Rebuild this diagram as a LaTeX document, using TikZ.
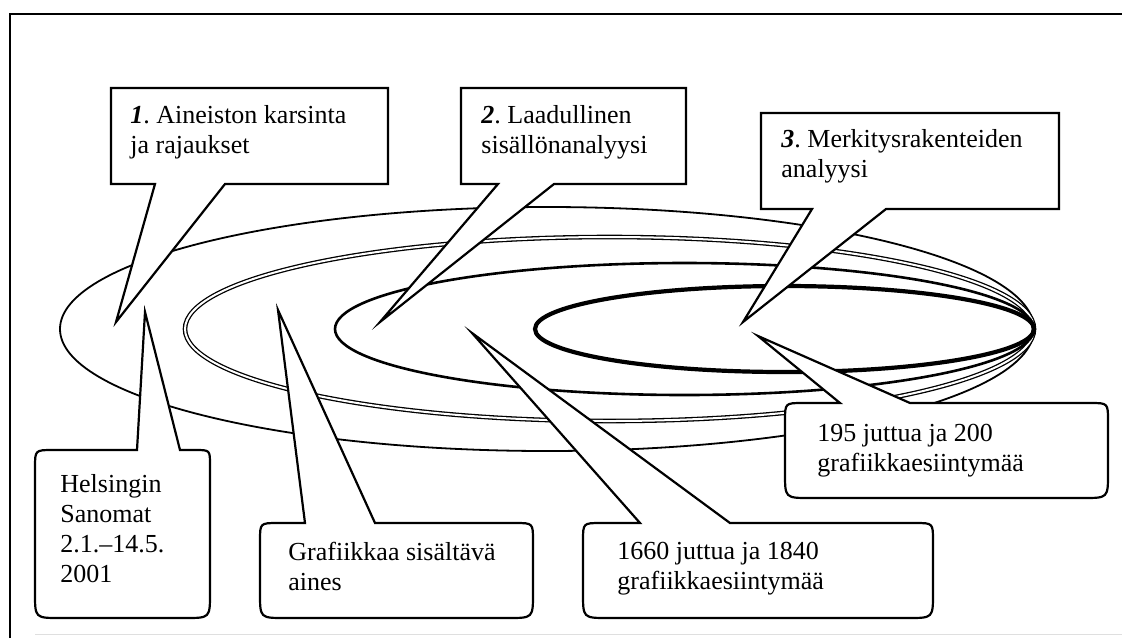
\documentclass[tikz,border=0pt]{standalone}
\usepackage{fontspec}
\setmainfont{Liberation Serif}
\frenchspacing
\begin{document}
\begin{tikzpicture}[x=0.5pt,y=-0.5pt,
  frameline/.style={line width=1pt},
  outerring/.style={line width=0.9pt},
  doublering/.style={line width=0.65pt, double, double distance=1pt},
  midring/.style={line width=1.3pt},
  innerring/.style={line width=2.1pt},
  callout/.style={draw, fill=white, line width=1.1pt, line join=miter, miter limit=20},
  lbl/.style={anchor=north west, inner sep=0pt, align=left,
    font=\fontsize{13}{15}\selectfont}]
\useasboundingbox (0,0) rectangle (1122,638);

% page frame
\draw[frameline] (10,638) -- (10,14) -- (1122,14);
\draw[gray!25, line width=0.5pt] (35,634) -- (1122,634);

% nested rings, all meeting at the right end
\draw[outerring]  (547,329)   ellipse [x radius=243.5pt, y radius=61pt];
\draw[doublering] (609.5,329) ellipse [x radius=212.25pt, y radius=46pt];
\draw[midring]    (684.5,329) ellipse [x radius=174.75pt, y radius=33pt];
\draw[innerring]  (784.5,329) ellipse [x radius=124.75pt, y radius=21.5pt];

% step callouts (rectangles with pointers)
\path[callout] (155,184) -- (116,322) -- (225,184) -- (388,184) -- (388,88) -- (111,88) -- (111,184) -- cycle;
\path[callout] (498,184) -- (380,322) -- (554,184) -- (686,184) -- (686,88) -- (461,88) -- (461,184) -- cycle;
\path[callout] (812,209) -- (743,322) -- (886,209) -- (1059,209) -- (1059,113) -- (761,113) -- (761,209) -- cycle;

\node[lbl] (step1) at (130,105) {\textbf{\textit{1}}. Aineiston karsinta\\ja rajaukset};
\node[lbl] (step2) at (481,105) {\textbf{\textit{2}}. Laadullinen\\sisällönanalyysi};
\node[lbl] (step3) at (781,129) {\textbf{\textit{3}}. Merkitysrakenteiden\\analyysi};

% data callouts (rounded bubbles with pointers)
\path[callout] (137,450) -- (145,312) -- (180,450) -- (195,450) .. controls (210,450) .. (210,465)
  -- (210,593) .. controls (210,618) .. (185,618) -- (60,618) .. controls (35,618) .. (35,593)
  -- (35,468) .. controls (35,450) .. (53,450) -- cycle;
\path[callout] (305,523) -- (278,310) -- (375,523) -- (515,523) .. controls (533,523) .. (533,541)
  -- (533,593) .. controls (533,618) .. (508,618) -- (285,618) .. controls (260,618) .. (260,593)
  -- (260,541) .. controls (260,523) .. (278,523) -- cycle;
\path[callout] (640,523) -- (472,333) -- (730,523) -- (915,523) .. controls (933,523) .. (933,541)
  -- (933,593) .. controls (933,618) .. (908,618) -- (608,618) .. controls (583,618) .. (583,593)
  -- (583,541) .. controls (583,523) .. (601,523) -- cycle;
\path[callout] (840,403) -- (758,336) -- (910,403) -- (1090,403) .. controls (1108,403) .. (1108,421)
  -- (1108,473) .. controls (1108,498) .. (1083,498) -- (810,498) .. controls (785,498) .. (785,473)
  -- (785,421) .. controls (785,403) .. (803,403) -- cycle;

\node[lbl] (source)  at (60,474)  {Helsingin\\Sanomat\\2.1.–14.5.\\2001};
\node[lbl] (graphic) at (288,542) {Grafiikkaa sisältävä\\aines};
\node[lbl] (count1)  at (617,542) {1660 juttua ja 1840\\grafiikkaesiintymää};
\node[lbl] (count2)  at (817,424) {195 juttua ja 200\\grafiikkaesiintymää};
\end{tikzpicture}
\end{document}
